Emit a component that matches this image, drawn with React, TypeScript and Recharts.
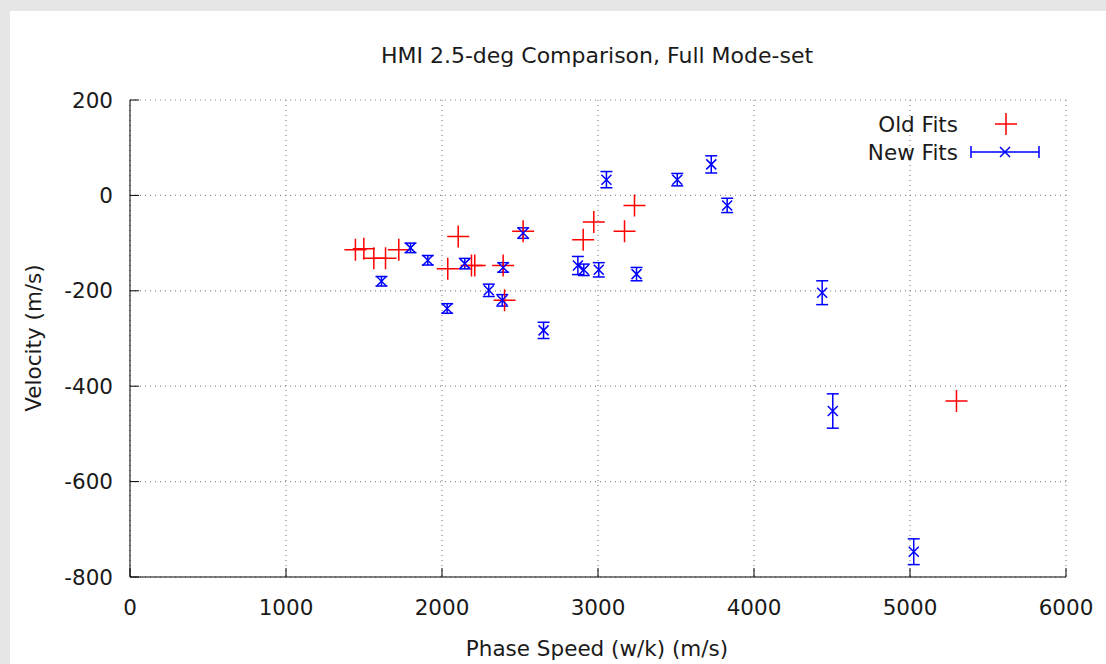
import React from 'react';
import { ScatterChart, Scatter, XAxis, YAxis, CartesianGrid, ErrorBar } from 'recharts';

// Old Fits (red +)
const oldSpeed = [1445, 1499, 1563, 1638, 1723, 2037, 2104, 2189, 2210, 2392, 2401, 2520, 2905, 2973, 3170, 3234, 5298];
const oldVelocity = [-114, -112, -132, -132, -114, -154, -86, -147, -147, -147, -220, -75, -93, -56, -75, -21, -431];

// New Fits (blue x with y error bars)
const newSpeed = [1612, 1798, 1909, 2033, 2146, 2300, 2386, 2392, 2520, 2651, 2871, 2909, 3005, 3054, 3247, 3508, 3726, 3828, 4437, 4505, 5024];
const newVelocity = [-180, -110, -136, -237, -143, -199, -220, -151, -79, -283, -147, -156, -156, 33, -165, 33, 65, -21, -204, -452, -747];
const newError = [10, 10, 10, 10, 11, 13, 12, 10, 11, 17, 19, 12, 15, 17, 14, 13, 18, 15, 25, 36, 27];

const xTicks = [0, 1000, 2000, 3000, 4000, 5000, 6000];
const yTicks = [-800, -600, -400, -200, 0, 200];

const oldData = oldSpeed.map((s, i) => ({ speed: s, velocity: oldVelocity[i] }));
const newData = newSpeed.map((s, i) => ({ speed: s, velocity: newVelocity[i], err: newError[i] }));

const font = '"DejaVu Sans", sans-serif';
const textColor = '#1a1a1a';
const tickFont = { fontSize: 21.5, fill: textColor, fontFamily: font };

const PlusMark = (props: any) => {
  const { cx, cy } = props;
  return (
    <path
      d={`M${cx - 11},${cy}H${cx + 11}M${cx},${cy - 11}V${cy + 11}`}
      stroke="#ff0000"
      strokeWidth={1.5}
      fill="none"
    />
  );
};

const CrossMark = (props: any) => {
  const { cx, cy } = props;
  return (
    <path
      d={`M${cx - 5},${cy - 5}L${cx + 5},${cy + 5}M${cx - 5},${cy + 5}L${cx + 5},${cy - 5}`}
      stroke="#0000ff"
      strokeWidth={1.5}
      fill="none"
    />
  );
};

export default function App() {
  return (
    <div style={{ position: 'absolute', left: 0, top: 0, width: 1106, height: 664, background: '#e6e6e6', fontFamily: font }}>
      <div style={{ position: 'absolute', left: 10, top: 11, width: 1096, height: 653, background: '#fff' }}>
        <ScatterChart width={1096} height={653} margin={{ top: 89, right: 40, bottom: 47, left: 0 }}>
          <CartesianGrid stroke="#888" strokeWidth={1.2} strokeDasharray="1 4" />
          <XAxis
            dataKey="speed"
            type="number"
            domain={[0, 6000]}
            ticks={xTicks}
            height={40}
            tickSize={-9}
            tickMargin={32}
            tick={tickFont}
            axisLine={{ stroke: '#000' }}
            tickLine={{ stroke: '#000' }}
            allowDataOverflow
          />
          <XAxis
            xAxisId="top"
            orientation="top"
            type="number"
            domain={[0, 6000]}
            ticks={xTicks}
            height={0}
            tickSize={-9}
            tick={false}
            axisLine={{ stroke: '#000' }}
            tickLine={{ stroke: '#000' }}
            allowDataOverflow
          />
          <YAxis
            dataKey="velocity"
            type="number"
            domain={[-800, 200]}
            ticks={yTicks}
            width={120}
            tickSize={-9}
            tickMargin={26}
            tick={tickFont}
            axisLine={{ stroke: '#000' }}
            tickLine={{ stroke: '#000' }}
            allowDataOverflow
          />
          <YAxis
            yAxisId="right"
            orientation="right"
            type="number"
            domain={[-800, 200]}
            ticks={yTicks}
            width={0}
            tickSize={-9}
            tick={false}
            axisLine={{ stroke: '#000' }}
            tickLine={{ stroke: '#000' }}
            allowDataOverflow
          />
          <Scatter name="Old Fits" data={oldData} shape={<PlusMark />} isAnimationActive={false} />
          <Scatter name="New Fits" data={newData} shape={<CrossMark />} isAnimationActive={false}>
            <ErrorBar dataKey="err" direction="y" width={6} stroke="#0000ff" strokeWidth={1.5} />
          </Scatter>
        </ScatterChart>
      </div>

      {/* title */}
      <div style={{ position: 'absolute', left: 597, top: 55, transform: 'translate(-50%, -50%)', fontSize: 22, color: textColor, whiteSpace: 'nowrap' }}>
        HMI 2.5-deg Comparison, Full Mode-set
      </div>
      {/* axis labels */}
      <div style={{ position: 'absolute', left: 597, top: 648, transform: 'translate(-50%, -50%)', fontSize: 21.5, color: textColor, whiteSpace: 'nowrap' }}>
        Phase Speed (w/k) (m/s)
      </div>
      <div style={{ position: 'absolute', left: 33, top: 338, transform: 'translate(-50%, -50%) rotate(-90deg)', fontSize: 21.5, color: textColor, whiteSpace: 'nowrap' }}>
        Velocity (m/s)
      </div>

      {/* legend */}
      <div style={{ position: 'absolute', right: 1106 - 958, top: 124, transform: 'translateY(-50%)', fontSize: 21.5, color: textColor, whiteSpace: 'nowrap' }}>
        Old Fits
      </div>
      <div style={{ position: 'absolute', right: 1106 - 958, top: 152, transform: 'translateY(-50%)', fontSize: 21.5, color: textColor, whiteSpace: 'nowrap' }}>
        New Fits
      </div>
      <svg style={{ position: 'absolute', left: 960, top: 105 }} width={90} height={60}>
        <path d="M35,19H57M46,8V30" stroke="#ff0000" strokeWidth={1.5} fill="none" />
        <path d="M11,47H79M11,41V53M79,41V53" stroke="#0000ff" strokeWidth={1.5} fill="none" />
        <path d="M40,42L50,52M40,52L50,42" stroke="#0000ff" strokeWidth={1.5} fill="none" />
      </svg>
    </div>
  );
}
